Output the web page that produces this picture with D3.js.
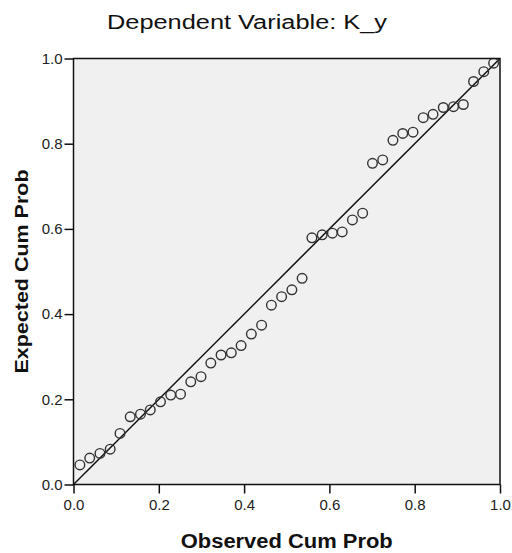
<!DOCTYPE html>
<html>
<head>
<meta charset="utf-8">
<script src="https://cdn.jsdelivr.net/npm/d3@7"></script>
<style>
  body { margin: 0; background: #fff; }
  text { font-family: Arial, "Liberation Sans", sans-serif; }
</style>
</head>
<body>
<svg id="chart" width="512" height="553"></svg>
<script>
const titleText = "Dependent Variable: K_y";
const xTitle = "Observed Cum Prob";
const yTitle = "Expected Cum Prob";
const tickValues = [0.0, 0.2, 0.4, 0.6, 0.8, 1.0];
const tickLabels = ["0.0", "0.2", "0.4", "0.6", "0.8", "1.0"];
const observed = [0.015,0.038,0.062,0.086,0.109,0.133,0.157,0.180,0.204,0.228,0.251,0.275,0.299,0.322,0.346,0.370,0.393,0.417,0.441,0.464,0.488,0.512,0.536,0.559,0.583,0.607,0.630,0.654,0.678,0.701,0.725,0.749,0.772,0.796,0.820,0.843,0.867,0.891,0.914,0.938,0.962,0.985];
const expected = [0.046,0.062,0.073,0.083,0.120,0.159,0.165,0.175,0.194,0.210,0.212,0.241,0.253,0.285,0.304,0.309,0.326,0.353,0.374,0.421,0.441,0.457,0.484,0.579,0.586,0.590,0.593,0.621,0.637,0.754,0.762,0.808,0.824,0.827,0.861,0.869,0.885,0.887,0.892,0.946,0.969,0.989];
const refLine = [0, 1];

const svg = d3.select("#chart");
const L = 73.5, R = 500, T = 58.5, B = 484.5;
const x = d3.scaleLinear().domain([0, 1]).range([L, R]);
const y = d3.scaleLinear().domain([0, 1]).range([B, T]);

// plot background
svg.append("rect").attr("x", L).attr("y", T).attr("width", R - L).attr("height", B - T)
  .attr("fill", "#f0f0f0");

// axes
const fmt = (d, i) => tickLabels[tickValues.indexOf(d)];
const xAxis = svg.append("g").attr("transform", `translate(0,${B})`)
  .call(d3.axisBottom(x).tickValues(tickValues).tickFormat(fmt).tickSize(9).tickSizeOuter(0).tickPadding(6));
const yAxis = svg.append("g").attr("transform", `translate(${L},0)`)
  .call(d3.axisLeft(y).tickValues(tickValues).tickFormat(fmt).tickSize(9).tickSizeOuter(0).tickPadding(2));
[xAxis, yAxis].forEach(g => {
  g.select(".domain").remove();
  g.selectAll(".tick line").attr("stroke", "#111").attr("stroke-width", 1.5);
  g.selectAll(".tick text").attr("fill", "#222").style("font-size", "15px")
    .style("font-family", "Arial, 'Liberation Sans', sans-serif");
});

// reference line
svg.append("line")
  .attr("x1", x(refLine[0])).attr("y1", y(refLine[0]))
  .attr("x2", x(refLine[1])).attr("y2", y(refLine[1]))
  .attr("stroke", "#111").attr("stroke-width", 1.5);

// points
svg.append("g").selectAll("circle")
  .data(observed.map((o, i) => [o, expected[i]]))
  .join("circle")
  .attr("cx", d => x(d[0])).attr("cy", d => y(d[1])).attr("r", 4.8)
  .attr("fill", "none").attr("stroke", "#333").attr("stroke-width", 1.4);

// plot border
svg.append("rect").attr("x", L).attr("y", T).attr("width", R - L).attr("height", B - T)
  .attr("fill", "none").attr("stroke", "#111").attr("stroke-width", 1.5);

// titles
svg.append("text").attr("x", 247).attr("y", 29.3).attr("text-anchor", "middle")
  .style("font-size", "20px").attr("fill", "#111")
  .attr("textLength", 280).attr("lengthAdjust", "spacingAndGlyphs")
  .text(titleText);

svg.append("text").attr("x", (L + R) / 2).attr("y", 548).attr("text-anchor", "middle")
  .style("font-size", "20px").style("font-weight", "bold").attr("fill", "#111")
  .attr("textLength", 212).attr("lengthAdjust", "spacingAndGlyphs")
  .text(xTitle);

svg.append("text").attr("transform", `translate(28,${(T + B) / 2}) rotate(-90)`)
  .attr("text-anchor", "middle")
  .style("font-size", "19px").style("font-weight", "bold").attr("fill", "#111")
  .attr("textLength", 204).attr("lengthAdjust", "spacingAndGlyphs")
  .text(yTitle);
</script>
</body>
</html>
